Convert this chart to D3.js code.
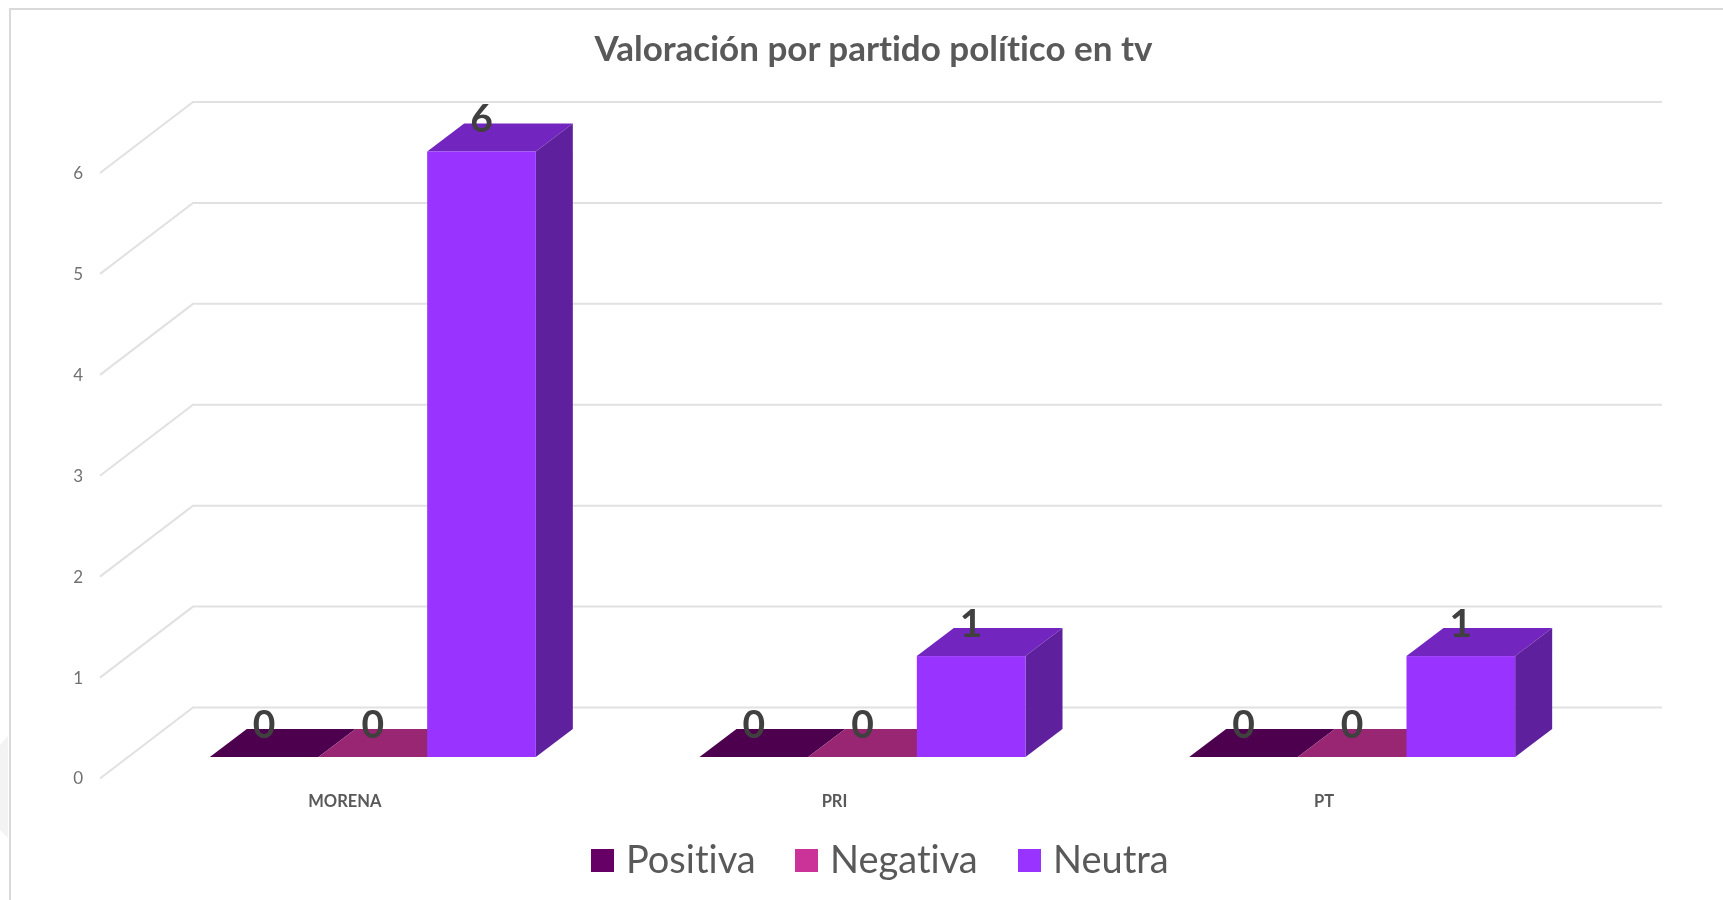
<!DOCTYPE html>
<head>
  <meta charset="utf-8">
  <title>Valoración por partido político en tv</title>
  <style>
    html, body { margin: 0; padding: 0; background: #fff; overflow: hidden; }
    svg { display: block; font-family: Lato, "Open Sans", sans-serif; font-variant-ligatures: none; filter: blur(0.5px); }
  </style>
</head>
<body>
<svg width="1723" height="900"></svg>
<script src="https://d3js.org/d3.v7.min.js"></script>
<script>

var chartTitle = "Valoración por partido político en tv";
var categories = ["MORENA", "PRI", "PT"];
var seriesNames = ["Positiva", "Negativa", "Neutra"];
var positiva = [0, 0, 0];
var negativa = [0, 0, 0];
var neutra = [6, 1, 1];
var yTicks = [0, 1, 2, 3, 4, 5, 6];

var seriesValues = [positiva, negativa, neutra];
var seriesColors = ["#660066", "#cc3399", "#9933ff"];

var svg = d3.select("svg");

// floor of the 3D box: front edge runs 100-1569, the back wall sits up and to the right of it
var wallDx = 93, wallDy = 71;
// bars stand in the middle of the floor
var barInsetDx = 28, barInsetDy = 21.5, barDepthDx = 37, barDepthDy = 28;

var x = d3.scaleBand().domain(categories).range([100, 1569]);
var groupWidth = 326;
var xBar = d3.scaleBand().domain(seriesNames).range([0, groupWidth]);
var y = d3.scaleLinear().domain([0, 6]).range([778.5, 173]);

function shade(color, k) {
  var c = d3.rgb(color);
  return d3.rgb(c.r * k, c.g * k, c.b * k).formatHex();
}

function poly(points) {
  return "M" + points.map(function(p) { return p.join(","); }).join("L") + "Z";
}

// faint leftover of the slide background, just outside the frame
svg.append("path")
    .attr("d", "M0,745L8,736V838L0,830Z")
    .attr("fill", "#f3f3f3");

// chart frame, only top and left show in the picture
svg.append("path")
    .attr("d", "M10,900V9H1723")
    .attr("fill", "none")
    .attr("stroke", "#d9d9d9")
    .attr("stroke-width", 2);

svg.append("text")
    .attr("x", 873.5)
    .attr("y", 61)
    .attr("text-anchor", "middle")
    .attr("font-size", 35)
    .attr("font-weight", 700)
    .attr("fill", "#595959")
    .text(chartTitle);

// gridlines, side wall then back wall
svg.append("g")
  .selectAll("path")
  .data(yTicks)
  .join("path")
    .attr("fill", "none")
    .attr("stroke", "#e1e1e1")
    .attr("stroke-width", 2)
    .attr("d", function(d) {
      var x0 = x.range()[0], x1 = x.range()[1];
      return "M" + x0 + "," + y(d) + "L" + (x0 + wallDx) + "," + (y(d) - wallDy) + "H" + (x1 + wallDx);
    });

var yAxis = svg.append("g")
    .attr("transform", "translate(100,0)")
    .call(d3.axisLeft(y).tickValues(yTicks).tickSize(0).tickPadding(17).tickFormat(d3.format("d")));
yAxis.select(".domain").remove();
yAxis.selectAll("text")
    .attr("font-family", "Lato, sans-serif")
    .attr("font-size", 17)
    .attr("fill", "#707070");

var xAxis = svg.append("g")
    .attr("transform", "translate(0,795)")
    .call(d3.axisBottom(x).tickSize(0).tickPadding(0));
xAxis.select(".domain").remove();
xAxis.selectAll("text")
    .attr("font-family", "Lato, sans-serif")
    .attr("font-size", 16.5)
    .attr("font-weight", 700)
    .attr("fill", "#595959");

// flatten to one record per bar
var bars = [];
seriesNames.forEach(function(name, s) {
  categories.forEach(function(cat, c) {
    bars.push({ category: cat, series: name, value: seriesValues[s][c], color: seriesColors[s] });
  });
});

function barLeft(d) {
  return x(d.category) + (x.bandwidth() - groupWidth) / 2 + barInsetDx + xBar(d.series);
}
function barBase() { return y(0) - barInsetDy; }
function barTop(d) { return y(d.value) - barInsetDy; }

var bar = svg.append("g")
  .selectAll("g")
  .data(bars)
  .join("g");

// top face
bar.append("path")
    .attr("fill", function(d) { return shade(d.color, 0.75); })
    .attr("d", function(d) {
      var l = barLeft(d), r = l + xBar.bandwidth(), t = barTop(d);
      return poly([[l, t], [r, t], [r + barDepthDx, t - barDepthDy], [l + barDepthDx, t - barDepthDy]]);
    });

// side face
bar.append("path")
    .attr("fill", function(d) { return shade(d.color, 0.62); })
    .attr("d", function(d) {
      var r = barLeft(d) + xBar.bandwidth(), t = barTop(d), b = barBase();
      return poly([[r, t], [r + barDepthDx, t - barDepthDy], [r + barDepthDx, b - barDepthDy], [r, b]]);
    });

// front face
bar.append("rect")
    .attr("x", barLeft)
    .attr("y", barTop)
    .attr("width", xBar.bandwidth())
    .attr("height", function(d) { return barBase() - barTop(d); })
    .attr("fill", function(d) { return d.color; });

// labels go on top of every bar
svg.append("g")
  .selectAll("text")
  .data(bars)
  .join("text")
    .attr("x", function(d) { return barLeft(d) + xBar.bandwidth() / 2; })
    .attr("y", function(d) { return barTop(d) - 33; })
    .attr("dy", "0.35em")
    .attr("text-anchor", "middle")
    .attr("font-size", 39)
    .attr("font-weight", 700)
    .attr("fill", "#404040")
    .text(function(d) { return d.value; });

// legend
var legendX = [591, 795, 1018];
var legend = svg.append("g")
  .selectAll("g")
  .data(seriesNames)
  .join("g")
    .attr("transform", function(d, i) { return "translate(" + legendX[i] + ",849)"; });

legend.append("rect")
    .attr("width", 23)
    .attr("height", 23)
    .attr("fill", function(d, i) { return seriesColors[i]; });

legend.append("text")
    .attr("x", 35)
    .attr("y", 24)
    .attr("font-size", 38)
    .attr("fill", "#595959")
    .text(function(d) { return d; });

</script>
</body>
